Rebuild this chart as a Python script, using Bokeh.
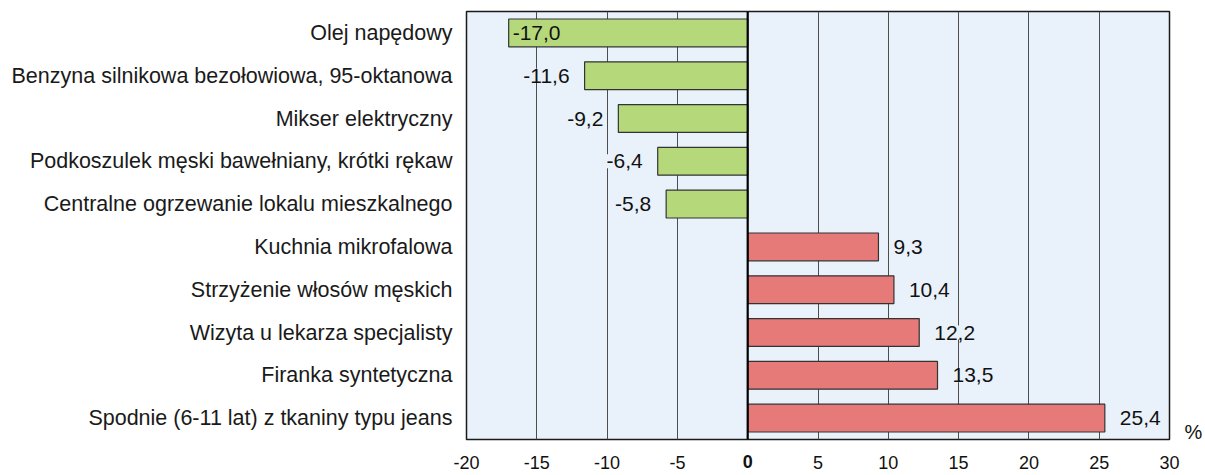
from bokeh.plotting import figure
from bokeh.models import (ColumnDataSource, FactorRange, Range1d, LabelSet, Span,
                          FixedTicker, LinearAxis, CategoricalAxis)
from bokeh.core.properties import value
from bokeh.embed import file_html
from bokeh.resources import INLINE

categories = ["Olej napędowy",
              "Benzyna silnikowa bezołowiowa, 95-oktanowa",
              "Mikser elektryczny",
              "Podkoszulek męski bawełniany, krótki rękaw",
              "Centralne ogrzewanie lokalu mieszkalnego",
              "Kuchnia mikrofalowa",
              "Strzyżenie włosów męskich",
              "Wizyta u lekarza specjalisty",
              "Firanka syntetyczna",
              "Spodnie (6-11 lat) z tkaniny typu jeans"]
values = [-17.0, -11.6, -9.2, -6.4, -5.8, 9.3, 10.4, 12.2, 13.5, 25.4]
ticks = [-20, -15, -10, -5, 0, 5, 10, 15, 20, 25, 30]
tick_labels = ["-20", "-15", "-10", "-5", "0", "5", "10", "15", "20", "25", "30"]
x_min, x_max = -20, 30
unit = "%"

FONT = "Liberation Sans"
BG = "#E9F2FA"
GREEN = "#B5D97A"
RED = "#E57A78"

colors = [GREEN if v < 0 else RED for v in values]
labels = [f"{v:.1f}".replace(".", ",") for v in values]

p = figure(width=1205, height=475, output_backend="svg", toolbar_location=None,
           x_range=Range1d(x_min, x_max),
           y_range=FactorRange(*reversed(categories), range_padding=0),
           min_border_left=466, min_border_right=33, min_border_top=11, min_border_bottom=32)
p.background_fill_color = BG
p.border_fill_color = "white"
p.outline_line_color = "#1a1a1a"
p.outline_line_width = 1.5

p.hbar(y=categories, right=values, left=0, height=0.65, fill_color=colors,
       line_color="#333333", line_width=1.2)

p.add_layout(Span(location=0, dimension="height", line_color="black", line_width=2.2))

# value labels
out_x, out_t, out_y, out_a, out_o = [], [], [], [], []
in_x, in_t, in_y = [], [], []
for c, v, t in zip(categories, values, labels):
    if v < x_min + 4.5:
        in_x.append(v); in_t.append(t); in_y.append(c)
    else:
        out_x.append(v); out_t.append(t); out_y.append(c)
        out_a.append("left" if v > 0 else "right")
        out_o.append(15 if v > 0 else -15)

src_out = ColumnDataSource(dict(x=out_x, y=out_y, t=out_t, a=out_a, o=out_o))
p.add_layout(LabelSet(x="x", y="y", text="t", source=src_out, x_offset="o",
                      text_align="a", text_baseline="middle",
                      text_font=value(FONT), text_font_size="21px", text_color="#111111",
                      background_fill_color=BG))
src_in = ColumnDataSource(dict(x=in_x, y=in_y, t=in_t))
p.add_layout(LabelSet(x="x", y="y", text="t", source=src_in, x_offset=4,
                      text_align="left", text_baseline="middle",
                      text_font=value(FONT), text_font_size="21px", text_color="#111111"))

STANDOFF = 13

def style_ax(ax):
    ax.axis_line_color = None
    ax.major_tick_line_color = None
    ax.minor_tick_line_color = None
    ax.major_tick_out = 0
    ax.major_tick_in = 0
    ax.minor_tick_out = 0
    ax.minor_tick_in = 0
    ax.major_label_text_font = FONT
    ax.major_label_text_font_size = "18px"
    ax.major_label_text_color = "#111111"

# main x axis (all ticks except zero)
xa = p.xaxis[0]
xa.ticker = FixedTicker(ticks=ticks)
overrides = {t: l for t, l in zip(ticks, tick_labels)}
overrides[0] = " "
xa.major_label_overrides = overrides
xa.major_label_standoff = STANDOFF
style_ax(xa)

# bold zero label, overlapping the main axis row
zero_ax = LinearAxis(ticker=FixedTicker(ticks=[0]),
                     major_label_overrides={0: tick_labels[ticks.index(0)]})
style_ax(zero_ax)
zero_ax.major_label_text_font_style = "bold"
zero_ax.major_label_standoff = -21
p.add_layout(zero_ax, "below")

# unit label on the right, near the bottom of the frame
# (invisible zero-width placeholder slots position "%" close to the frame bottom)
slots = [unit] + ["\u200b" * i for i in range(1, 30)]
p.extra_y_ranges = {"unit": FactorRange(*slots, range_padding=0)}
unit_ax = CategoricalAxis(y_range_name="unit")
style_ax(unit_ax)
unit_ax.major_label_standoff = 15
unit_ax.major_label_text_font_size = "20px"
p.add_layout(unit_ax, "right")

ya = p.yaxis[0]
ya.axis_line_color = None
ya.major_tick_line_color = None
ya.minor_tick_line_color = None
ya.major_tick_out = 0
ya.major_label_standoff = 14
ya.major_label_text_font = FONT
ya.major_label_text_font_size = "21.5px"
ya.major_label_text_color = "#1a1a1a"

p.xgrid.ticker = FixedTicker(ticks=ticks)
p.xgrid.grid_line_color = "#4d4d4d"
p.xgrid.grid_line_width = 1
p.ygrid.grid_line_color = None

open("out.html", "w").write(file_html(p, INLINE))
